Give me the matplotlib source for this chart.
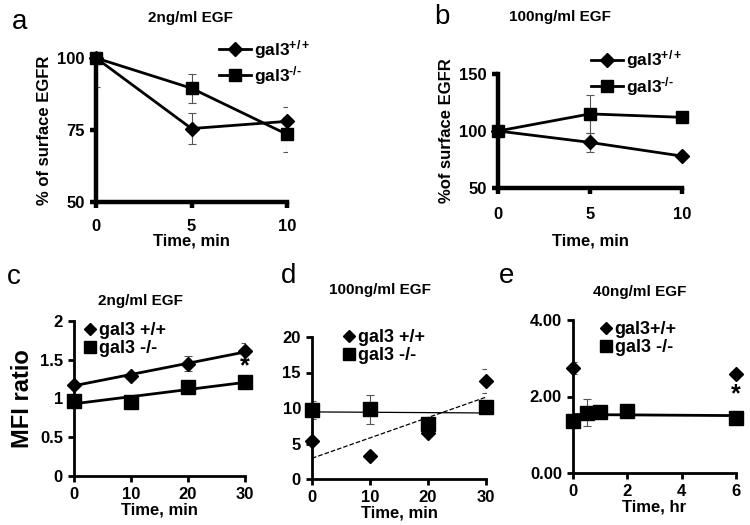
import numpy as np
import matplotlib.pyplot as plt

plt.rcParams['font.family'] = ['Liberation Sans', 'DejaVu Sans']
plt.rcParams['mathtext.fontset'] = 'custom'
plt.rcParams['mathtext.rm'] = 'Liberation Sans:bold'
plt.rcParams['mathtext.default'] = 'rm'

# a: 2ng/ml EGF surface EGFR
a_time = [0, 5, 10]
a_wt = [100, 75.5, 78]
a_wt_err = [0, 5.5, 5]
a_ko = [100, 89.5, 73.5]
a_ko_err = [10, 5, 6]

# b: 100ng/ml EGF surface EGFR
b_time = [0, 5, 10]
b_wt = [100, 90, 78]
b_wt_err = [0, 8, 0]
b_ko = [100, 115, 112]
b_ko_err = [5, 17, 0]

# c: 2ng/ml EGF MFI ratio
c_time = [0, 10, 20, 30]
c_wt = [1.18, 1.29, 1.45, 1.61]
c_wt_err = [0.02, 0.03, 0.1, 0.1]
c_ko = [0.97, 0.95, 1.15, 1.21]
c_ko_err = [0.02, 0.02, 0.03, 0.07]

# d: 100ng/ml EGF MFI ratio
d_time = [0, 10, 20, 30]
d_wt = [5.3, 3.3, 6.5, 13.8]
d_wt_err = [0, 0, 0, 1.7]
d_ko = [9.7, 9.8, 7.8, 10.2]
d_ko_err = [1.3, 2.0, 0, 0]

# e: 40ng/ml EGF MFI ratio
e_wt_time = [0, 6]
e_wt = [2.75, 2.6]
e_wt_err = [0.15, 0]
e_ko_time = [0, 0.5, 1, 2, 6]
e_ko = [1.35, 1.58, 1.6, 1.62, 1.45]
e_ko_err = [0.15, 0.35, 0, 0, 0.18]

W, H = 750, 525
fig = plt.figure(figsize=(7.5, 5.25), dpi=100)


def make_ax(x0, x1, ytop, ybot):
    return fig.add_axes([x0 / W, 1 - ybot / H, (x1 - x0) / W, (ybot - ytop) / H])


def style(ax, lw):
    for s in ['top', 'right']:
        ax.spines[s].set_visible(False)
    for s in ['left', 'bottom']:
        ax.spines[s].set_linewidth(lw)
    ax.tick_params(width=lw, length=4, labelsize=12, pad=4)
    for lab in ax.get_xticklabels() + ax.get_yticklabels():
        lab.set_fontweight('bold')
    ax.set_facecolor('none')


ebkw = dict(ecolor='#555555', elinewidth=0.8, capsize=3, capthick=0.8)
wt_sup = r'gal3$^{+/+}$'
ko_sup = r'gal3$^{\text{-/-}}$'

# ---- panel a
ax = make_ax(96, 287, 58, 202)
ax.errorbar(a_time, a_wt, yerr=a_wt_err, fmt='none', **ebkw)
ax.errorbar(a_time, a_ko, yerr=a_ko_err, fmt='none', **ebkw)
ax.plot(a_time, a_wt, color='black', lw=2, marker='D', ms=7, clip_on=False, label=wt_sup)
ax.plot(a_time, a_ko, color='black', lw=2, marker='s', ms=9, clip_on=False, label=ko_sup)
ax.set_xlim(0, 10)
ax.set_ylim(50, 100)
ax.set_xticks([0, 5, 10])
ax.set_yticks([50, 75, 100])
style(ax, 3.2)
ax.tick_params(axis='x', pad=8)
ax.set_ylabel('% of surface EGFR', fontsize=12, fontweight='bold')
ax.set_xlabel('Time, min', fontsize=12, fontweight='bold', labelpad=0)
ax.legend(loc='upper left', bbox_to_anchor=(0.6, 1.2), frameon=False,
          prop={'weight': 'bold', 'size': 12.5}, handlelength=1.8, handletextpad=0.2,
          labelspacing=0.2, borderpad=0)
fig.text(190 / W, 1 - 18 / H, '2ng/ml EGF', ha='center', va='center', fontsize=11, fontweight='bold')
fig.text(20 / W, 1 - 22 / H, 'a', ha='center', va='center', fontsize=20)

# ---- panel b
ax = make_ax(498, 682, 74, 188)
ax.errorbar(b_time, b_wt, yerr=b_wt_err, fmt='none', **ebkw)
ax.errorbar(b_time, b_ko, yerr=b_ko_err, fmt='none', **ebkw)
ax.plot(b_time, b_wt, color='black', lw=2, marker='D', ms=7, clip_on=False, label=wt_sup)
ax.plot(b_time, b_ko, color='black', lw=2, marker='s', ms=9, clip_on=False, label=ko_sup)
ax.set_xlim(0, 10)
ax.set_ylim(50, 150)
ax.set_xticks([0, 5, 10])
ax.set_yticks([50, 100, 150])
style(ax, 3.2)
ax.tick_params(axis='x', pad=10)
ax.set_ylabel('%of surface EGFR', fontsize=12, fontweight='bold')
ax.set_xlabel('Time, min', fontsize=12, fontweight='bold', labelpad=8)
ax.legend(loc='upper left', bbox_to_anchor=(0.46, 1.3), frameon=False,
          prop={'weight': 'bold', 'size': 12.5}, handlelength=1.8, handletextpad=0.2,
          labelspacing=0.2, borderpad=0)
fig.text(560 / W, 1 - 17 / H, '100ng/ml EGF', ha='center', va='center', fontsize=11, fontweight='bold')
fig.text(442 / W, 1 - 17 / H, 'b', ha='center', va='center', fontsize=20)


def trend(ax, x, y, **kw):
    k, b0 = np.polyfit(x, y, 1)
    xs = np.array([min(x), max(x)])
    ax.plot(xs, k * xs + b0, color='black', **kw)


mkw = dict(color='black', linestyle='none', clip_on=False)
lgkw = dict(loc='upper left', frameon=False, prop={'weight': 'bold', 'size': 13},
            handlelength=0.8, handletextpad=0.1, labelspacing=0.05, borderpad=0, markerscale=0.9)

# ---- panel c
ax = make_ax(74, 245, 321, 476)
ax.errorbar(c_time, c_wt, yerr=c_wt_err, fmt='none', **ebkw)
ax.errorbar(c_time, c_ko, yerr=c_ko_err, fmt='none', **ebkw)
trend(ax, c_time, c_wt, lw=2)
trend(ax, c_time, c_ko, lw=2)
ax.plot(c_time, c_wt, marker='D', ms=7, label='gal3 +/+', **mkw)
ax.plot(c_time, c_ko, marker='s', ms=10, label='gal3 -/-', **mkw)
ax.text(30, 1.42, '*', ha='center', va='center', fontsize=18, fontweight='bold')
ax.set_xlim(0, 30)
ax.set_ylim(0, 2)
ax.set_xticks([0, 10, 20, 30])
ax.set_yticks([0, 0.5, 1, 1.5, 2])
ax.set_yticklabels(['0', '0.5', '1', '1.5', '2'])
style(ax, 2)
ax.set_ylabel('MFI ratio', fontsize=17, fontweight='bold')
ax.set_xlabel('Time, min', fontsize=12, fontweight='bold', labelpad=0)
ax.legend(bbox_to_anchor=(0.0, 1.05), **lgkw)
fig.text(140 / W, 1 - 301 / H, '2ng/ml EGF', ha='center', va='center', fontsize=11, fontweight='bold')
fig.text(14 / W, 1 - 277 / H, 'c', ha='center', va='center', fontsize=20)

# ---- panel d
ax = make_ax(312, 486, 337, 479)
ax.errorbar(d_time, d_wt, yerr=d_wt_err, fmt='none', **ebkw)
ax.errorbar(d_time, d_ko, yerr=d_ko_err, fmt='none', **ebkw)
trend(ax, d_time, d_wt, lw=0.9, linestyle='--')
trend(ax, d_time, d_ko, lw=0.9)
ax.plot(d_time, d_wt, marker='D', ms=7, label='gal3 +/+', **mkw)
ax.plot(d_time, d_ko, marker='s', ms=10, label='gal3 -/-', **mkw)
ax.set_xlim(0, 30)
ax.set_ylim(0, 20)
ax.set_xticks([0, 10, 20, 30])
ax.set_yticks([0, 5, 10, 15, 20])
style(ax, 2)
ax.set_xlabel('Time, min', fontsize=12, fontweight='bold', labelpad=0)
ax.legend(bbox_to_anchor=(0.12, 1.12), **lgkw)
fig.text(380 / W, 1 - 290 / H, '100ng/ml EGF', ha='center', va='center', fontsize=11, fontweight='bold')
fig.text(289 / W, 1 - 276 / H, 'd', ha='center', va='center', fontsize=20)

# ---- panel e
ax = make_ax(573, 736, 320, 473)
ax.errorbar(e_wt_time, e_wt, yerr=e_wt_err, fmt='none', **ebkw)
ax.errorbar(e_ko_time, e_ko, yerr=e_ko_err, fmt='none', **ebkw)
trend(ax, e_ko_time, e_ko, lw=2)
ax.plot(e_wt_time, e_wt, marker='D', ms=7, label='gal3+/+', **mkw)
ax.plot(e_ko_time, e_ko, marker='s', ms=10, label='gal3 -/-', **mkw)
ax.text(6, 2.05, '*', ha='center', va='center', fontsize=18, fontweight='bold')
ax.set_xlim(0, 6)
ax.set_ylim(0, 4)
ax.set_xticks([0, 2, 4, 6])
ax.set_yticks([0, 2, 4])
ax.set_yticklabels(['0.00', '2.00', '4.00'])
style(ax, 2)
ax.set_xlabel('Time, hr', fontsize=12, fontweight='bold', labelpad=0)
ax.legend(bbox_to_anchor=(0.1, 1.05), **lgkw)
fig.text(640 / W, 1 - 292 / H, '40ng/ml EGF', ha='center', va='center', fontsize=11, fontweight='bold')
fig.text(507 / W, 1 - 276 / H, 'e', ha='center', va='center', fontsize=20)

fig.savefig('out.png', dpi=100)
